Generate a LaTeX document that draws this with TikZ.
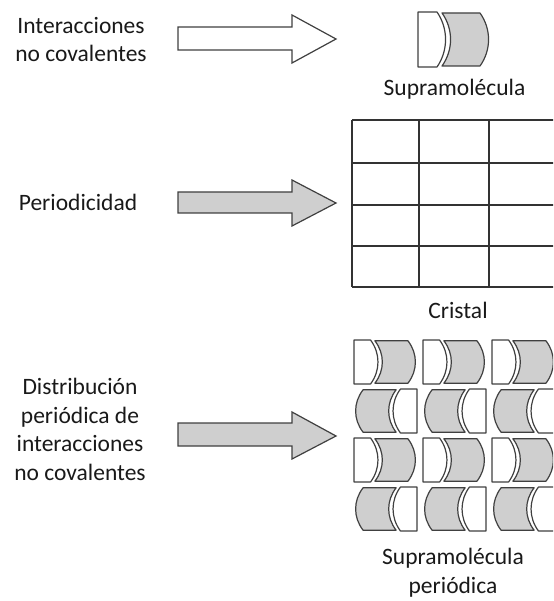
\documentclass[tikz,border=0pt]{standalone}
\usepackage{fontspec}
\setmainfont{Carlito}
\definecolor{edge}{HTML}{404040}
\definecolor{shade}{HTML}{CFCFCF}
\begin{document}
\begin{tikzpicture}[x=1pt,y=-1pt,
  piece/.style={draw=edge,line width=1.2pt,line join=round},
  blockarrow/.style={draw=edge,line width=1.2pt,line join=miter},
  gridline/.style={draw=black!80,line width=1.2pt},
  lbl/.style={font=\fontsize{23.5}{28.7}\selectfont,align=center,anchor=base,inner sep=0pt,text=black!90},
  unitR/.pic={
    \draw[piece,fill=white] (0,0) -- (19,0) .. controls (30.4,16.6) and (30.4,38.4) .. (19,55) -- (0,55) -- cycle;
    \draw[piece,fill=shade] (24,1) -- (62,1) .. controls (73.4,17) and (73.4,38) .. (62,54) -- (24,54) .. controls (35.4,38) and (35.4,17) .. cycle;
  }]
\useasboundingbox (0,0) rectangle (553,601);
\begin{scope}
\clip (0,0) rectangle (553,601);

% labels (multi-line nodes: base = last line)
\node[lbl] (t1) at (81,62) {Interacciones\\no covalentes};
\node[lbl] (s1) at (454.5,96) {Supramolécula};
\node[lbl] (t2) at (78,211) {Periodicidad};
\node[lbl] (c1) at (458,318) {Cristal};
\node[lbl] (t3) at (80,480.5) {Distribución\\periódica de\\interacciones\\no covalentes};
\node[lbl] (s2) at (453,593) {Supramolécula\\periódica};

% arrows
\draw[blockarrow,fill=white] (178,27) coordinate (a1s) -- (292,27) -- (292,15) -- (336,39) coordinate (a1t) -- (292,63) -- (292,50) -- (178,50) -- cycle;
\draw[blockarrow,fill=shade] (178,192) coordinate (a2s) -- (292,192) -- (292,180) -- (336,203) coordinate (a2t) -- (292,226) -- (292,213) -- (178,213) -- cycle;
\draw[blockarrow,fill=shade] (178,423) coordinate (a3s) -- (292,423) -- (292,412) -- (336,436) coordinate (a3t) -- (292,459) -- (292,446) -- (178,446) -- cycle;

% supramolecule
\begin{scope}[shift={(418,12)}]
  \pic {unitR};
\end{scope}

% crystal grid
\foreach \yy in {120,163,205,246,287} \draw[gridline] (352,\yy) -- (560,\yy);
\foreach \xx in {352,419,489} \draw[gridline] (\xx,120) -- (\xx,287);

% periodic supramolecule
\foreach \yy in {340,438} {
  \foreach \xx in {354,423,492} {
    \begin{scope}[shift={(\xx,\yy)},xscale=0.87,yscale=0.8,transform shape]
      \pic {unitR};
    \end{scope}
  }
}
\foreach \yy in {389,487} {
  \foreach \xx in {417,486,555} {
    \begin{scope}[shift={(\xx,\yy)},xscale=-0.87,yscale=0.8,transform shape]
      \pic {unitR};
    \end{scope}
  }
}
\end{scope}
\end{tikzpicture}
\end{document}
